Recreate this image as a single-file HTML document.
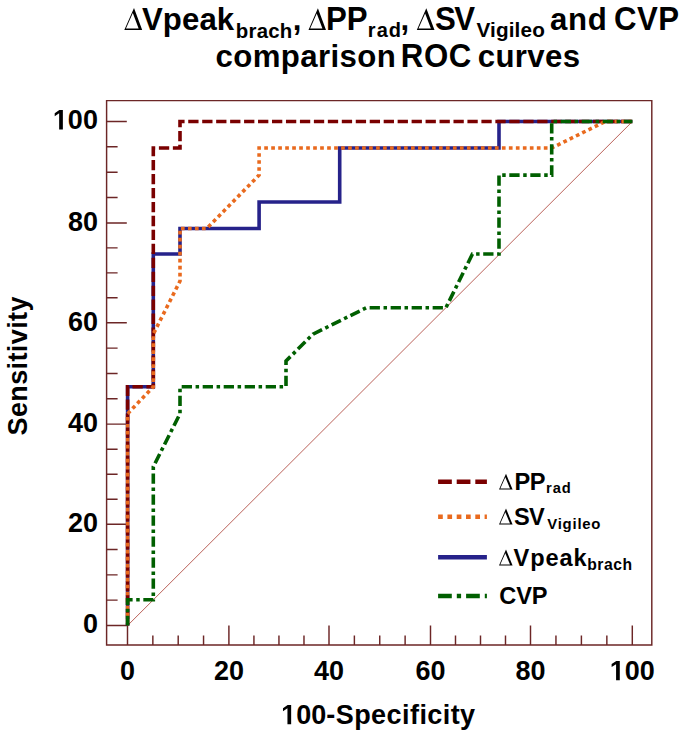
<!DOCTYPE html>
<html><head><meta charset="utf-8"><style>
html,body{margin:0;padding:0;background:#fff;width:685px;height:739px;overflow:hidden}
svg{display:block}
</style></head><body>
<svg width="685" height="739" viewBox="0 0 685 739">
<rect width="685" height="739" fill="#fff"/>
<g font-family='"Liberation Sans", sans-serif' font-weight="bold" fill="#000">
<path d="M134.00 7.90 L142.20 29.90 L124.30 29.90 Z M132.82 13.05 L125.97 28.60 L138.62 28.60 Z" fill="#000" fill-rule="evenodd"/><text x="141.99" y="30.00" font-size="31.20" textLength="92.18" lengthAdjust="spacing">Vpeak</text><text x="235.76" y="38.00" font-size="20.40" textLength="56.51" lengthAdjust="spacing">brach</text><text x="292.78" y="30.00" font-size="31.20">,</text><path d="M317.90 8.30 L326.00 29.90 L308.50 29.90 Z M316.74 13.47 L310.16 28.60 L322.42 28.60 Z" fill="#000" fill-rule="evenodd"/><text transform="translate(326.11,30.00) scale(1,1.040)" font-size="31.20" textLength="41.35" lengthAdjust="spacing">PP</text><text x="367.78" y="36.80" font-size="20.00" textLength="33.24" lengthAdjust="spacing">rad</text><text x="400.48" y="30.00" font-size="31.20">,</text><path d="M426.30 8.30 L434.50 29.90 L416.80 29.90 Z M425.14 13.42 L418.46 28.60 L430.90 28.60 Z" fill="#000" fill-rule="evenodd"/><text transform="translate(435.00,30.00) scale(1,1.040)" font-size="31.20" textLength="40.01" lengthAdjust="spacing">SV</text><text x="476.46" y="36.80" font-size="20.70" textLength="68.35" lengthAdjust="spacing">Vigileo</text><text x="550.09" y="30.00" font-size="31.20" textLength="56.67" lengthAdjust="spacing">and</text><text transform="translate(613.92,30.00) scale(1,1.040)" font-size="31.20" textLength="65.15" lengthAdjust="spacing">CVP</text><text x="215.48" y="67.00" font-size="31.20" textLength="180.35" lengthAdjust="spacing">comparison</text><text transform="translate(400.81,67.00) scale(1,1.040)" font-size="31.20" textLength="70.44" lengthAdjust="spacing">ROC</text><text x="477.68" y="67.00" font-size="31.20" textLength="102.50" lengthAdjust="spacing">curves</text>
<g transform="translate(82.89,633.40) scale(1,1.040)" font-size="27.00"><text x="0.00" y="0">0</text></g><g transform="translate(67.88,532.30) scale(1,1.040)" font-size="27.00"><text x="0.00" y="0">20</text></g><g transform="translate(67.88,432.10) scale(1,1.040)" font-size="27.00"><text x="0.00" y="0">40</text></g><g transform="translate(67.88,330.80) scale(1,1.040)" font-size="27.00"><text x="0.00" y="0">60</text></g><g transform="translate(67.88,230.90) scale(1,1.040)" font-size="27.00"><text x="0.00" y="0">80</text></g><g transform="translate(52.86,129.40) scale(1,1.040)" font-size="27.00"><path d="M478 0 L478 1170 L140 959 L140 1180 L493 1409 L759 1409 L759 0 Z" transform="translate(0.00,0) scale(0.01318,-0.01318)"/><text x="15.02" y="0">00</text></g><g transform="translate(119.99,680.20) scale(1,1.040)" font-size="27.00"><text x="0.00" y="0">0</text></g><g transform="translate(213.88,680.20) scale(1,1.040)" font-size="27.00"><text x="0.00" y="0">20</text></g><g transform="translate(313.98,680.20) scale(1,1.040)" font-size="27.00"><text x="0.00" y="0">40</text></g><g transform="translate(415.48,680.20) scale(1,1.040)" font-size="27.00"><text x="0.00" y="0">60</text></g><g transform="translate(515.48,680.20) scale(1,1.040)" font-size="27.00"><text x="0.00" y="0">80</text></g><g transform="translate(609.78,680.20) scale(1,1.040)" font-size="27.00"><path d="M478 0 L478 1170 L140 959 L140 1180 L493 1409 L759 1409 L759 0 Z" transform="translate(0.00,0) scale(0.01318,-0.01318)"/><text x="15.02" y="0">00</text></g>
<g transform="translate(281.15,724.30) scale(1,1.040)" font-size="27.00"><path d="M478 0 L478 1170 L140 959 L140 1180 L493 1409 L759 1409 L759 0 Z" transform="translate(0.00,0) scale(0.01318,-0.01318)"/><text x="15.02" y="0">00</text></g><text x="326.35" y="724.30" font-size="27.00" textLength="148.80" lengthAdjust="spacing">-Specificity</text>
<g transform="translate(27,434.7) rotate(-90)"><text x="-0.78" y="0.00" font-size="27.00" textLength="138.92" lengthAdjust="spacing">Sensitivity</text></g>
</g>
<g fill="none" stroke="#6c2626" stroke-width="1.45">
<path d="M106.6 100.6 H651.8 V645.0 H106.6 Z"/>
<path d="M106.60 625.40 H126.80 M106.60 600.12 H117.60 M106.60 574.85 H117.60 M106.60 549.57 H117.60 M106.60 524.30 H126.80 M106.60 499.25 H117.60 M106.60 474.20 H117.60 M106.60 449.15 H117.60 M106.60 424.10 H126.80 M106.60 398.78 H117.60 M106.60 373.45 H117.60 M106.60 348.12 H117.60 M106.60 322.80 H126.80 M106.60 297.82 H117.60 M106.60 272.85 H117.60 M106.60 247.88 H117.60 M106.60 222.90 H126.80 M106.60 197.53 H117.60 M106.60 172.15 H117.60 M106.60 146.78 H117.60 M106.60 121.40 H126.80 M127.50 645.00 V625.50 M152.85 645.00 V635.50 M178.20 645.00 V635.50 M203.55 645.00 V635.50 M228.90 645.00 V625.50 M253.93 645.00 V635.50 M278.95 645.00 V635.50 M303.98 645.00 V635.50 M329.00 645.00 V625.50 M354.38 645.00 V635.50 M379.75 645.00 V635.50 M405.12 645.00 V635.50 M430.50 645.00 V625.50 M455.50 645.00 V635.50 M480.50 645.00 V635.50 M505.50 645.00 V635.50 M530.50 645.00 V625.50 M555.95 645.00 V635.50 M581.40 645.00 V635.50 M606.85 645.00 V635.50 M632.30 645.00 V625.50"/>
</g>
<line x1="127.6" y1="625.5" x2="632.4" y2="121.5" stroke="#a8382e" stroke-width="0.8"/>
<g fill="none" stroke-width="3.6" stroke-linejoin="miter">
<path d="M632.40 121.50 L499.00 121.50 L499.00 148.00 L339.70 148.00 L339.70 202.00 L259.10 202.00 L259.10 228.50 L180.00 228.50 L180.00 254.00 L153.30 254.00 L153.30 386.80 L127.60 386.80 L127.60 625.50" stroke="#26228a"/>
<path d="M632.40 121.50 L180.00 121.50 L180.00 148.00 L153.30 148.00 L153.30 386.80 L127.60 386.80 L127.60 625.50" stroke="#7a0000" stroke-dasharray="10.3 3.66" stroke-dashoffset="-1.1"/>
<path d="M632.40 121.50 L605.29 121.50 L551.70 148.00 L259.10 148.00 L259.10 175.10 L206.77 228.50 L180.00 228.50 L180.00 281.06 L153.30 334.12 L153.30 386.80 L127.60 413.71 L127.60 625.50" stroke="#e96a1e" stroke-dasharray="3.7 3.29" stroke-dashoffset="-0.2"/>
<path d="M632.40 121.50 L551.70 121.50 L551.70 175.10 L499.00 175.10 L499.00 254.00 L472.45 254.00 L445.88 307.80 L366.18 307.80 L313.04 334.12 L286.00 361.00 L286.00 386.80 L180.00 386.80 L180.00 413.71 L153.30 466.77 L153.30 599.80 L127.60 599.80 L127.60 625.50" stroke="#005f00" stroke-dasharray="10.3 3.6 3.5 3.6" stroke-dashoffset="1.6"/>
</g>
<g fill="none" stroke-width="4.6">
<path d="M438.1 481.8 H486.9" stroke="#7a0000" stroke-dasharray="13.73 4.88"/>
<path d="M438.1 516.7 H486.9" stroke="#e96a1e" stroke-dasharray="4.7 4.6"/>
<path d="M438.1 557.3 H486.9" stroke="#26228a"/>
<path d="M438.1 596 H486.9" stroke="#005f00" stroke-dasharray="13.7 5.0 4.3 5.0"/>
</g>
<g font-family='"Liberation Sans", sans-serif' font-weight="bold" fill="#000">
<path d="M506.00 473.80 L512.60 489.60 L499.00 489.60 Z M505.31 477.33 L500.32 488.60 L510.01 488.60 Z" fill="#000" fill-rule="evenodd"/><text transform="translate(514.42,489.60) scale(1,1.040)" font-size="23.60" textLength="30.99" lengthAdjust="spacing">PP</text><text x="546.03" y="493.20" font-size="14.70" textLength="24.64" lengthAdjust="spacing">rad</text><path d="M506.00 508.60 L512.60 524.40 L499.00 524.40 Z M505.31 512.13 L500.32 523.40 L510.01 523.40 Z" fill="#000" fill-rule="evenodd"/><text transform="translate(514.02,524.60) scale(1,1.040)" font-size="23.60" textLength="30.74" lengthAdjust="spacing">SV</text><text x="547.20" y="529.20" font-size="14.90" textLength="53.28" lengthAdjust="spacing">Vigileo</text><path d="M506.00 549.60 L512.60 565.40 L499.00 565.40 Z M505.31 553.13 L500.32 564.40 L510.01 564.40 Z" fill="#000" fill-rule="evenodd"/><text x="513.54" y="565.50" font-size="23.60" textLength="73.14" lengthAdjust="spacing">Vpeak</text><text x="587.17" y="569.80" font-size="15.70" textLength="45.01" lengthAdjust="spacing">brach</text><text transform="translate(499.13,604.20) scale(1,1.040)" font-size="23.60" textLength="48.47" lengthAdjust="spacing">CVP</text>
</g>
</svg>
</body></html>
